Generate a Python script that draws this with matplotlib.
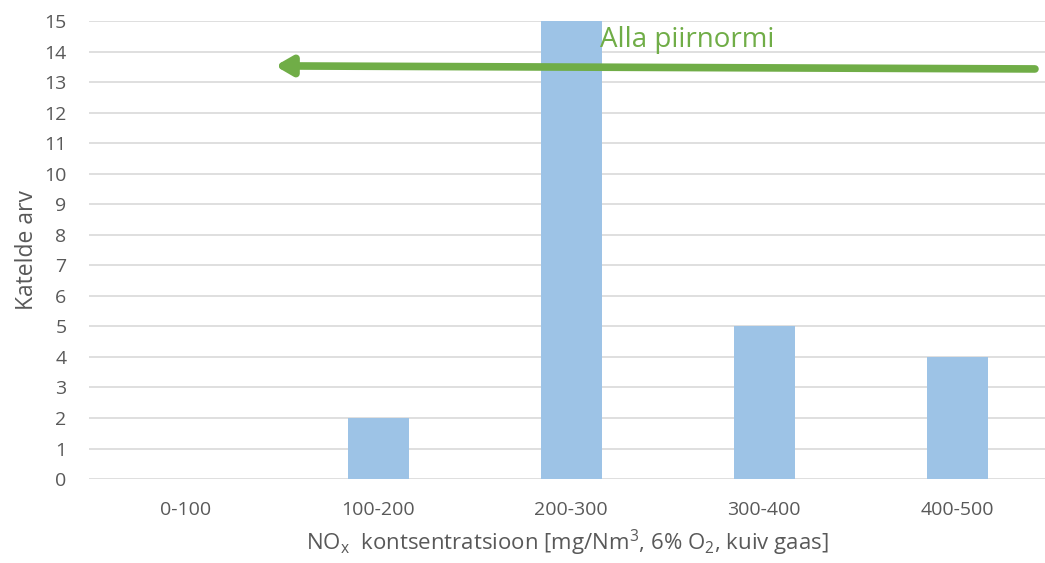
import matplotlib.pyplot as plt

categories = ['0-100', '100-200', '200-300', '300-400', '400-500']
counts = [0, 2, 15, 5, 4]
yticks = list(range(0, 16))

plt.rcParams['font.family'] = ['Open Sans', 'DejaVu Sans']
gray = '#595959'

fig = plt.figure(figsize=(10.45, 5.63), dpi=100)
ax = fig.add_axes([0.085, 0.149, 0.915, 0.8137])

x = list(range(len(categories)))
ax.bar(x, counts, width=0.316, color='#9DC3E6', zorder=2)

ax.set_xlim(-0.5, 4.456)
ax.set_ylim(0, 15)
ax.set_yticks(yticks)
ax.set_xticks(x)
ax.set_xticklabels(categories)
ax.tick_params(length=0, colors=gray, labelsize=14)
ax.tick_params(axis='x', pad=16)
ax.tick_params(axis='y', pad=16)
ax.grid(axis='y', color='#d9d9d9', linewidth=1.2, zorder=0)
for s in ax.spines.values():
    s.set_visible(False)

ax.set_ylabel('Katelde arv', color=gray, fontsize=16.5, labelpad=4)
ax.set_xlabel(r'NO$_\mathregular{x}$  kontsentratsioon [mg/Nm$^\mathregular{3}$, 6% O$_\mathregular{2}$, kuiv gaas]',
              color=gray, fontsize=16, labelpad=6)

# green arrow
ax.annotate('', xy=(0.466, 13.53), xytext=(4.404, 13.43),
            arrowprops=dict(arrowstyle='-|>,head_length=0.95,head_width=0.55',
                            color='#70AD47', lw=5.5, shrinkA=0, shrinkB=0),
            zorder=3)
ax.text(2.15, 14.38, 'Alla piirnormi', color='#70AD47', fontsize=20,
        va='center', ha='left', zorder=4)

fig.savefig('out.png', dpi=100)
